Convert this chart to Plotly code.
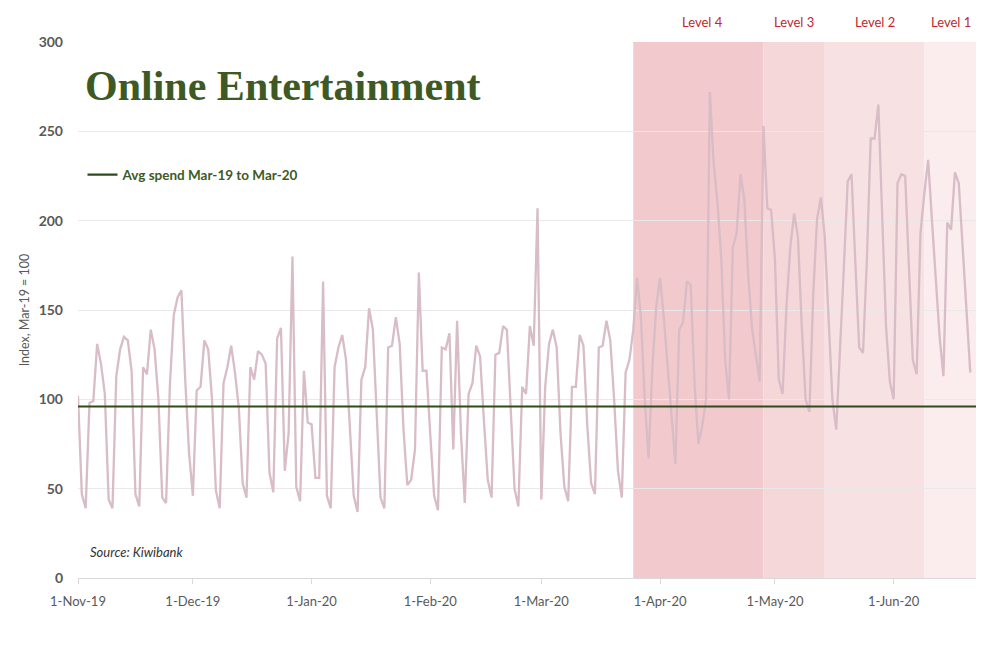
import pandas as pd
import plotly.graph_objects as go

# ---------------- data ----------------
START_DATE = "2019-11-01"
AXIS_END = "2020-06-22 12:00"

NOV_19 = [102, 47, 39, 98, 99, 131, 120, 103, 44, 39,
          113, 128, 135, 133, 116, 47, 40, 118, 114, 139,
          128, 100, 45, 42, 108, 147, 157, 161, 111, 70]
DEC_19 = [46, 105, 107, 133, 128, 100, 49, 39, 109, 118,
          130, 115, 95, 53, 45, 118, 111, 127, 125, 120,
          59, 48, 134, 140, 60, 81, 180, 51, 43, 116, 87]
JAN_20 = [86, 56, 56, 166, 46, 39, 118, 129, 136, 122,
          81, 46, 37, 111, 118, 151, 139, 88, 45, 39,
          129, 130, 146, 131, 83, 52, 55, 72, 171, 116, 116]
FEB_20 = [80, 46, 38, 129, 128, 137, 72, 144, 81, 42,
          103, 109, 130, 124, 88, 55, 45, 125, 126, 141,
          139, 94, 50, 40, 107, 103, 141, 130, 207]
MAR_20 = [44, 107, 131, 139, 129, 81, 51, 43, 107, 107,
          136, 130, 85, 53, 47, 129, 130, 144, 133, 100,
          60, 45, 115, 122, 139, 168, 146, 100, 67, 118, 152]
APR_20 = [168, 145, 118, 90, 64, 139, 143, 166, 164, 109,
          75, 85, 100, 272, 232, 210, 178, 122, 100, 185,
          193, 226, 212, 170, 140, 125, 110, 253, 207, 206]
MAY_20 = [178, 111, 103, 152, 185, 204, 191, 141, 100, 93,
          159, 201, 213, 191, 141, 100, 83, 126, 174, 222,
          226, 176, 129, 126, 178, 246, 246, 265, 200, 141, 110]
JUN_20 = [100, 221, 226, 225, 175, 122, 114, 193, 215, 234,
          200, 170, 135, 113, 199, 195, 227, 221, 185, 150, 115]

AVG_SPEND = 96
AVG_LABEL = "Avg spend Mar-19 to Mar-20"

LEVELS = ["Level 4", "Level 3", "Level 2", "Level 1"]
LEVEL_STARTS = ["2020-03-25", "2020-04-28", "2020-05-14", "2020-06-09"]
LEVEL_LABEL_DATES = ["2020-04-12", "2020-05-06", "2020-05-27", "2020-06-16"]
LEVEL_COLORS = ["#f2c9cc", "#f5d6d9", "#f8e1e3", "#fbeced"]

TICK_DATES = ["2019-11-01", "2019-12-01", "2020-01-01", "2020-02-01",
              "2020-03-01", "2020-04-01", "2020-05-01", "2020-06-01"]
TICK_LABELS = ["1-Nov-19", "1-Dec-19", "1-Jan-20", "1-Feb-20",
               "1-Mar-20", "1-Apr-20", "1-May-20", "1-Jun-20"]
Y_TICKS = [0, 50, 100, 150, 200, 250, 300]

TITLE = "Online Entertainment"
Y_TITLE = "Index, Mar-19 = 100"
SOURCE = "Source: Kiwibank"

# ---------------- figure ----------------
values = NOV_19 + DEC_19 + JAN_20 + FEB_20 + MAR_20 + APR_20 + MAY_20 + JUN_20
dates = pd.date_range(START_DATE, periods=len(values), freq="D")

GREEN = "#2f4b1d"
TEXT_GREEN = "#3d5a24"
GREY = "#595959"

fig = go.Figure()

fig.add_trace(go.Scatter(
    x=dates, y=values, mode="lines", name="Online Entertainment",
    line=dict(color="#d8bcc6", width=2.3), showlegend=False,
    hoverinfo="skip"))

fig.add_trace(go.Scatter(
    x=[START_DATE, AXIS_END], y=[AVG_SPEND, AVG_SPEND], mode="lines",
    name=AVG_LABEL, line=dict(color=GREEN, width=2.2), showlegend=True,
    hoverinfo="skip"))

ends = LEVEL_STARTS[1:] + [AXIS_END]
for name, s, e, c, lx in zip(LEVELS, LEVEL_STARTS, ends, LEVEL_COLORS, LEVEL_LABEL_DATES):
    fig.add_shape(type="rect", xref="x", yref="paper", x0=s, x1=e, y0=0, y1=1,
                  fillcolor=c, line=dict(width=0), layer="below")
    fig.add_annotation(x=lx, y=1.037, xref="x", yref="paper", text=name,
                       showarrow=False, font=dict(family="Lato", size=13, color="#c0282e"),
                       xanchor="center", yanchor="middle")

fig.add_annotation(x=0.006, y=0.918, xref="paper", yref="paper", text=TITLE,
                   showarrow=False, xanchor="left", yanchor="middle",
                   font=dict(family="Liberation Serif", size=42, color=TEXT_GREEN, weight="bold"))

fig.add_annotation(x=0.011, y=0.0485, xref="paper", yref="paper",
                   text="<i>" + SOURCE + "</i>", showarrow=False,
                   xanchor="left", yanchor="middle",
                   font=dict(family="Lato", size=13, color="#333333"))

fig.update_layout(
    width=1000, height=664,
    margin=dict(l=78, r=24, t=42, b=86),
    paper_bgcolor="white", plot_bgcolor="white",
    font=dict(family="Lato", color=GREY),
    legend=dict(x=0.005, y=0.752, xanchor="left", yanchor="middle",
                bgcolor="rgba(0,0,0,0)", itemwidth=30,
                font=dict(family="Lato", size=13.5, color=TEXT_GREEN, weight="bold")),
    hovermode=False,
)

fig.update_xaxes(
    type="date", range=[START_DATE, AXIS_END],
    tickvals=TICK_DATES, ticktext=TICK_LABELS,
    tickfont=dict(family="Lato", size=13, color=GREY),
    showgrid=False, showline=True, linecolor="#d9d9d9", linewidth=1,
    ticks="outside", ticklen=5, tickcolor="#d9d9d9", zeroline=False,
    ticklabelstandoff=6,
)

fig.update_yaxes(
    range=[0, 300], tickvals=Y_TICKS,
    tickfont=dict(family="Lato", size=14, color=GREY, weight="bold"),
    showgrid=True, gridcolor="#e9e9e9", gridwidth=1, zeroline=False,
    ticks="", showline=False, ticklabelstandoff=14,
    title=dict(text=Y_TITLE, font=dict(family="Lato", size=12.5, color=GREY), standoff=6),
)

fig.write_html("out.html")
